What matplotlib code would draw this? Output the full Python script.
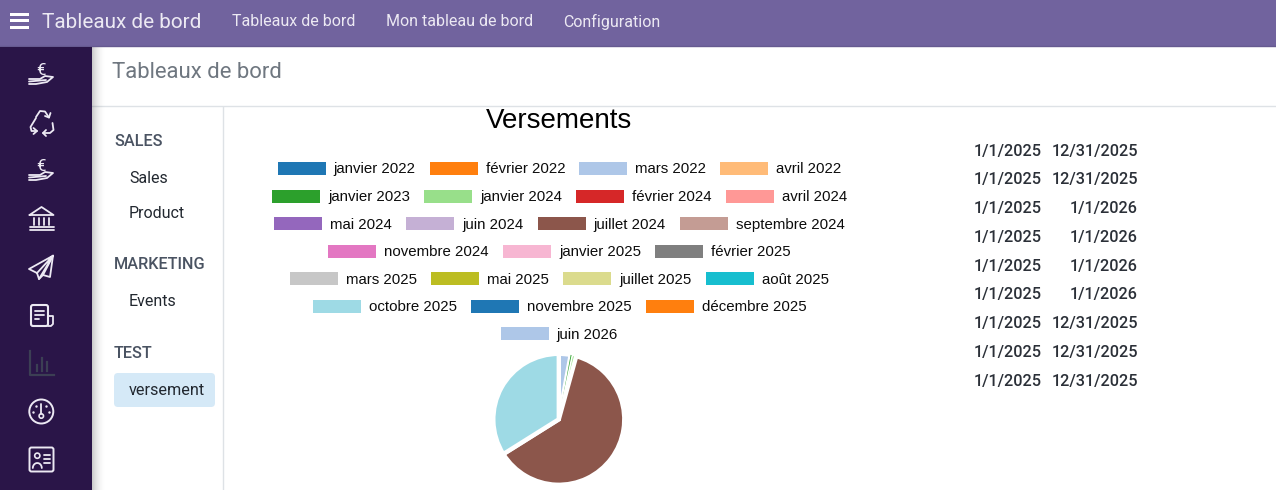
import matplotlib
matplotlib.use("Agg")
import matplotlib.pyplot as plt
from matplotlib.patches import Rectangle, FancyBboxPatch, Circle
import numpy as np

W, H = 1276, 490
PX = 72 / 100

legend_labels = ["janvier 2022", "février 2022", "mars 2022", "avril 2022",
                 "janvier 2023", "janvier 2024", "février 2024", "avril 2024",
                 "mai 2024", "juin 2024", "juillet 2024", "septembre 2024",
                 "novembre 2024", "janvier 2025", "février 2025",
                 "mars 2025", "mai 2025", "juillet 2025", "août 2025",
                 "octobre 2025", "novembre 2025", "décembre 2025",
                 "juin 2026"]
legend_rows = [4, 4, 4, 3, 4, 3, 1]
palette = ["#1f77b4", "#ff7f0e", "#aec7e8", "#ffbb78", "#2ca02c", "#98df8a", "#d62728",
           "#ff9896", "#9467bd", "#c5b0d5", "#8c564b", "#c49c94", "#e377c2", "#f7b6d2",
           "#7f7f7f", "#c7c7c7", "#bcbd22", "#dbdb8d", "#17becf", "#9edae5"]
pie_values = [0.0, 0.0, 2.9, 0.0, 0.42, 0.97, 0.0, 0.0, 0.0, 0.0, 61.8,
              0.0, 0.0, 0.0, 0.0, 0.0, 0.0, 0.0, 0.0, 33.91, 0.0, 0.0, 0.0]
date_start = ["1/1/2025"] * 9
date_end = ["12/31/2025", "12/31/2025", "1/1/2026", "1/1/2026", "1/1/2026", "1/1/2026",
            "12/31/2025", "12/31/2025", "12/31/2025"]
nav_items = ["Tableaux de bord", "Mon tableau de bord", "Configuration"]

fig = plt.figure(figsize=(W / 100, H / 100), dpi=100)
ax = fig.add_axes([0, 0, 1, 1])
ax.set_xlim(0, W)
ax.set_ylim(H, 0)
ax.axis("off")
R = "Roboto"
L = "Liberation Sans"

def T(x, y, s, size, color, family=R, ha="left", weight="normal"):
    return ax.text(x, y, s, fontsize=size * PX, color=color, family=family, ha=ha,
                   va="center_baseline", weight=weight, zorder=6)

# chrome
ax.add_patch(Rectangle((0, 0), W, 47, fc="#71639e", ec="none", zorder=3))
ax.plot([0, W], [46.5, 46.5], color="#665a90", lw=1, zorder=3)
ax.add_patch(Rectangle((0, 47), 92, H - 47, fc="#2a1548", ec="none", zorder=3))
for i in range(14):
    ax.add_patch(Rectangle((92 + i, 47), 1, H - 47, fc="#000000",
                           alpha=0.20 * (1 - i / 14) ** 2, ec="none", zorder=2))
for y in (14.5, 21, 27.5):
    ax.add_patch(Rectangle((10, y - 1.5), 19, 3, fc="white", ec="none", zorder=4))
T(41.5, 20.5, "Tableaux de bord", 20.8, "#ece9f3")
for x, s in zip((232, 385.5, 563.5), nav_items):
    T(x, 20.5, s, 16, "#ece9f3")
T(112, 69.5, "Tableaux de bord", 22.2, "#6f7780")
ax.plot([92, W], [106.3, 106.3], color="#dee2e6", lw=1, zorder=1)
ax.plot([222.9, 222.9], [107, H], color="#dee2e6", lw=1, zorder=1)

# side menu
for y, s in [(140, "SALES"), (262.5, "MARKETING"), (351.5, "TEST")]:
    T(114, y, s, 16.3, "#4a5362", weight="medium")
for y, s in [(176.5, "Sales"), (211.5, "Product"), (300, "Events")]:
    T(129, y, s, 16, "#222830")
ax.add_patch(FancyBboxPatch((117, 376), 95, 28, boxstyle="round,pad=3,rounding_size=4",
                            fc="#d5e9f7", ec="none", zorder=3))
T(129, 389, "versement", 16.2, "#222830")

# sidebar icons
ic = dict(color="#ece9f3", lw=1.3, zorder=5, solid_capstyle="round")
def hand(cy):
    T(41, cy - 4, "€", 17, "#ece9f3", ha="center")
    ax.plot([29, 40, 45, 53, 47, 36, 29], [cy + 6, cy + 6, cy + 3, cy + 4, cy + 9, cy + 11, cy + 11], **ic)
    ax.plot([29, 46], [cy + 8.5, cy + 7], **ic)
hand(73); hand(169)
# recycle
ax.plot([36, 40, 45, 49], [117, 111, 111.5, 117.5], **ic)
ax.plot([45, 49, 50.5], [116, 117.5, 113], **ic)
ax.plot([36, 30.5, 31.5, 37], [118, 127, 131, 131], **ic)
ax.plot([33.5, 37, 33.5], [128, 131, 134], **ic)
ax.plot([52.5, 53.5, 50, 43], [123, 130, 133, 133], **ic)
ax.plot([46, 43, 46], [130, 133, 136], **ic)
# bank
ax.plot([29.5, 41.5, 53.5, 29.5], [215, 207, 215, 215], **ic)
for x in (34, 39, 44, 49):
    ax.plot([x, x], [218, 225], **ic)
for y in (227, 230):
    ax.plot([29.5, 53.5], [y, y], **ic)
# plane
ax.plot([53, 29, 37, 53, 39, 37], [255.7, 269, 273, 255.7, 279, 273], **ic)
ax.plot([39, 43, 50, 53], [279, 275, 277, 255.7], **ic)
ax.plot([43, 53], [275, 255.7], **ic)
# document
ax.add_patch(FancyBboxPatch((31, 305), 17, 21, boxstyle="round,pad=0,rounding_size=2", fc="none",
                            ec="#ece9f3", lw=1.5, zorder=5))
ax.plot([48, 53, 53, 51, 48], [316, 316, 324, 326, 326], **ic)
for y, x2 in ((311, 44), (315, 44), (319, 39)):
    ax.plot([35, x2], [y, y], **ic)
# disabled chart icon
dim = dict(color="#3c3f54", lw=1.6, zorder=5)
ax.plot([29.5, 29.5, 53.5], [351, 374.5, 374.5], **dim)
for x, y0 in ((37, 365), (42, 358), (47, 362)):
    ax.plot([x, x], [y0, 371], **dim)
# gauge
ax.add_patch(Circle((41.3, 411.5), 12, fc="none", ec="#ece9f3", lw=1.4, zorder=5))
ax.add_patch(Circle((41.3, 416), 2.2, fc="none", ec="#ece9f3", lw=1.2, zorder=5))
ax.plot([41.3, 41.3], [404, 414], **ic)
for dx, dy in ((-8, 0), (8, 0), (-5, -6), (5, -6)):
    ax.plot([41.3 + dx], [411.5 + dy], ".", color="#ece9f3", ms=1.5, zorder=5)
# contact card
ax.add_patch(FancyBboxPatch((29.5, 447.5), 24, 24, boxstyle="round,pad=0,rounding_size=2", fc="none",
                            ec="#ece9f3", lw=1.4, zorder=5))
ax.add_patch(Circle((37.3, 455.7), 2.6, fc="none", ec="#ece9f3", lw=1.2, zorder=5))
t = np.radians(np.linspace(0, 180, 12))
ax.plot(37.3 + 4.5 * np.cos(t), 468 - 5 * np.sin(t), **ic)
for y in (455, 459, 463):
    ax.plot([44, 50], [y, y], **ic)

# chart title and legend
T(559, 117.5, "Versements", 27.7, "#000000", family=L, ha="center")
fig.canvas.draw()
rend = fig.canvas.get_renderer()
LFS = 15
row_y = [167.5, 195.5, 223, 250.5, 278, 305.5, 333]
i = 0
for n, y in zip(legend_rows, row_y):
    labs = legend_labels[i:i + n]
    txts = [T(0, y, s, LFS, "#0c0c0c", family=L) for s in labs]
    widths = [t.get_window_extent(rend).width for t in txts]
    total = sum(48 + 8 + w for w in widths) + 14 * (n - 1)
    x = 559.5 - total / 2
    for k, (t, w) in enumerate(zip(txts, widths)):
        ax.add_patch(Rectangle((x, y - 6), 48, 13, fc=palette[(i + k) % 20], ec="none", zorder=4))
        t.set_x(x + 56)
        x += 48 + 8 + w + 14
    i += n

# pie
cx, cy, rad = 558.8, 419.3, 65.5
pad = 6
pax = fig.add_axes([(cx - rad - pad) / W, 1 - (cy + rad + pad) / H,
                    (2 * (rad + pad)) / W, (2 * (rad + pad)) / H])
pie_colors = [palette[i % 20] for i in range(len(pie_values))]
wedges, _ = pax.pie(pie_values, colors=pie_colors, startangle=90, counterclock=False,
                    radius=rad / (rad + pad), frame=False,
                    wedgeprops=dict(edgecolor="white", linewidth=4.4 * PX))
for v, w in zip(pie_values, wedges):
    if v == 0:
        w.set_visible(False)
    elif v < 0.5:
        w.set_linewidth(0)
    elif v < 1:
        w.set_linewidth(1.6 * PX)
pax.set_xlim(-1, 1)
pax.set_ylim(-1, 1)
pax.set_aspect("auto")
pax.axis("off")

# date table
for y, a, b in zip([149.5, 178, 207, 236, 264.5, 293, 322, 351, 379.5], date_start, date_end):
    T(1042, y, a, 16.2, "#2b3038", ha="right", weight="medium")
    T(1138, y, b, 16.2, "#2b3038", ha="right", weight="medium")

fig.savefig("out.png", dpi=100, facecolor="white")
